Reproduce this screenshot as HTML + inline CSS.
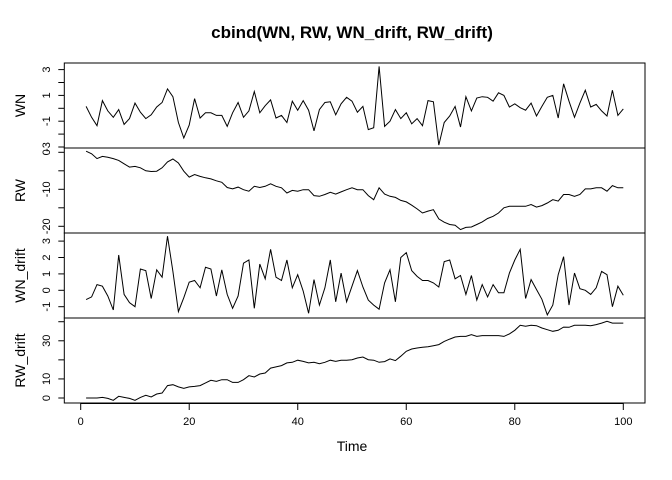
<!DOCTYPE html>
<html><head><meta charset="utf-8"><style>
body{margin:0;background:#fff}
svg{display:block;font-family:"Liberation Sans",Arial,sans-serif}
</style></head><body>
<svg id="chart" width="672" height="480" viewBox="0 0 672 480">
<text x="352" y="38" text-anchor="middle" font-size="17" font-weight="bold">cbind(WN, RW, WN_drift, RW_drift)</text>
<text x="352" y="451" text-anchor="middle" font-size="14">Time</text>
<g id="plots"></g>
</svg>
<script>
const timeTicks=[0,20,40,60,80,100];
const seriesNames=["WN","RW","WN_drift","RW_drift"];
const wn=[0.15,-0.7,-1.35,0.6,-0.2,-0.7,-0.1,-1.25,-0.8,0.4,-0.3,-0.8,-0.5,0.1,0.45,1.5,0.9,-1.1,-2.3,-1.3,0.75,-0.75,-0.35,-0.35,-0.55,-0.55,-1.4,-0.35,0.45,-0.7,-0.2,1.3,-0.35,0.2,0.65,-0.75,-0.55,-1.1,0.55,-0.15,0.6,-0.15,-1.75,-0.1,0.45,0.5,-0.5,0.35,0.85,0.55,-0.3,0.15,-1.65,-1.5,3.25,-1.4,-1.0,-0.1,-0.8,-0.35,-1.2,-0.8,-1.35,0.6,0.5,-2.85,-1.1,-0.6,0.15,-1.45,0.9,-0.2,0.8,0.9,0.85,0.55,1.2,1.0,0.1,0.35,0.05,-0.15,0.4,-0.6,0.15,0.85,1.0,-0.75,1.9,0.55,-0.7,0.4,1.4,0.1,0.3,-0.2,-0.6,1.4,-0.55,-0.05];
const rw=[0.3,-0.4,-1.7,-1.1,-1.35,-1.7,-2.2,-3.1,-4.0,-3.8,-4.2,-5.0,-5.2,-5.1,-4.2,-2.6,-1.8,-2.9,-5.1,-6.7,-6.0,-6.5,-6.9,-7.2,-7.7,-8.1,-9.5,-9.9,-9.4,-10.1,-10.5,-9.2,-9.5,-9.2,-8.5,-9.2,-9.6,-11.0,-10.3,-10.5,-10.1,-10.1,-11.7,-11.9,-11.4,-10.8,-11.3,-10.7,-10.1,-9.6,-10.1,-10.1,-11.7,-12.8,-9.6,-11.3,-11.9,-12.2,-13.0,-13.4,-14.3,-15.3,-16.4,-15.9,-15.5,-18.0,-18.9,-19.5,-19.7,-20.9,-20.3,-20.2,-19.5,-18.8,-17.9,-17.3,-16.4,-15.0,-14.6,-14.6,-14.6,-14.6,-14.1,-14.8,-14.4,-13.7,-12.8,-13.2,-11.4,-11.4,-11.9,-11.4,-9.9,-9.9,-9.6,-9.6,-10.5,-9.0,-9.6,-9.6];
const wnDrift=[-0.57,-0.4,0.35,0.25,-0.35,-1.2,2.15,-0.25,-0.75,-1.0,1.3,1.2,-0.5,1.25,0.8,3.3,1.15,-1.3,-0.45,0.5,0.6,0.15,1.4,1.3,-0.35,1.25,-0.25,-1.1,-0.35,1.65,1.85,-1.1,1.6,0.7,2.5,0.8,0.6,1.85,0.15,0.95,-0.05,-1.4,0.65,-0.9,0.15,1.85,-0.7,1.05,-0.7,0.25,1.2,0.2,-0.6,-0.9,-1.15,0.45,1.25,-0.7,2.0,2.3,1.2,0.85,0.6,0.6,0.45,0.2,1.75,1.85,0.7,0.9,-0.25,0.9,-0.6,0.35,-0.4,0.35,-0.15,-0.15,1.05,1.85,2.5,-0.5,0.65,0.05,-0.55,-1.5,-0.9,0.95,2.05,-0.9,1.05,0.1,0.0,-0.25,0.15,1.15,0.95,-1.0,0.25,-0.3];
const rwDrift=[0,0,0,0.3,-0.2,-1.2,0.9,0.3,-0.2,-1.2,0.3,1.4,0.5,2.1,2.6,6.5,7.0,5.8,5.1,5.8,6.1,6.5,7.9,9.3,8.7,9.6,9.6,8.2,8.2,9.6,11.7,11.0,12.6,13.1,15.7,16.3,17.0,18.4,18.7,19.8,19.2,18.4,18.7,18.0,18.7,19.8,19.2,19.8,19.8,20.1,21.0,21.5,20.1,19.8,18.7,19.1,20.5,19.6,21.9,24.5,25.7,26.2,26.6,26.9,27.4,28.0,29.7,30.9,32.0,32.3,32.3,33.2,32.3,32.7,32.7,32.7,32.7,32.3,33.6,35.5,38.1,37.6,38.1,37.9,36.7,35.8,35.0,35.5,37.2,37.1,38.1,38.1,38.1,37.9,38.5,39.3,40.2,39.3,39.3,39.3];
const wnTicks=[-3,-2,-1,0,1,2,3], wnLabels=[-3,-1,1,3];
const rwTicks=[-20,-15,-10,-5,0], rwLabels=[-20,-10,0];
const wndTicks=[-1,0,1,2,3], wndLabels=[-1,0,1,2,3];
const rwdTicks=[0,10,20,30,40], rwdLabels=[0,10,30];

const NS="http://www.w3.org/2000/svg";
const g=document.getElementById('plots');
const L=64.3,R=645;
const xs=t=>80.7+(t)*5.426;
function mk(tag,attrs){const e=document.createElementNS(NS,tag);for(const k in attrs)e.setAttribute(k,attrs[k]);g.appendChild(e);return e;}
// panel: top, bottom, y-scale (value->px)
const panels=[
 {data:wn,ticks:wnTicks,labels:wnLabels,top:63,bot:148,y:v=>108.3-12.9*v},
 {data:rw,ticks:rwTicks,labels:rwLabels,top:148,bot:233,y:v=>152.3-3.7*v},
 {data:wnDrift,ticks:wndTicks,labels:wndLabels,top:233,bot:318,y:v=>290.3-16.4*v},
 {data:rwDrift,ticks:rwdTicks,labels:rwdLabels,top:318,bot:403,y:v=>398-1.907*v}
];
panels.forEach((p,k)=>{
  const box=mk('rect',{x:L,y:p.top,width:R-L,height:p.bot-p.top,fill:'none',stroke:'#000','stroke-width':1});
  
  
  p.ticks.forEach(v=>{
    const ty=p.y(v);
    const tl=mk('line',{x1:L-6,x2:L,y1:ty,y2:ty,stroke:'#000'});
    
    
  });
  p.labels.forEach(v=>{
    const ty=p.y(v);
    const tx=mk('text',{x:50,y:ty,'font-size':11,'text-anchor':'middle',transform:`rotate(-90 50 ${ty})`});
    tx.textContent=String(v);
    
    
  });
  const mid=(p.top+p.bot)/2;
  const tt=mk('text',{x:25,y:mid,'font-size':14,'text-anchor':'middle',transform:`rotate(-90 25 ${mid})`});
  tt.textContent=seriesNames[k];
  
  
  const pts=p.data.map((v,i)=>xs(i+1).toFixed(1)+','+p.y(v).toFixed(1)).join(' ');
  const line=mk('polyline',{points:pts,fill:'none',stroke:'#000','stroke-width':1});
  
  
});
const ax=mk('line',{x1:xs(0),x2:xs(100),y1:403.5,y2:403.5,stroke:'#000'});


timeTicks.forEach(t=>{
  const tk=mk('line',{x1:xs(t),x2:xs(t),y1:403,y2:410,stroke:'#000'});
  
  
  const tl=mk('text',{x:xs(t),y:425,'font-size':11,'text-anchor':'middle'});
  tl.textContent=String(t);
  
  
});
</script>
</body></html>
